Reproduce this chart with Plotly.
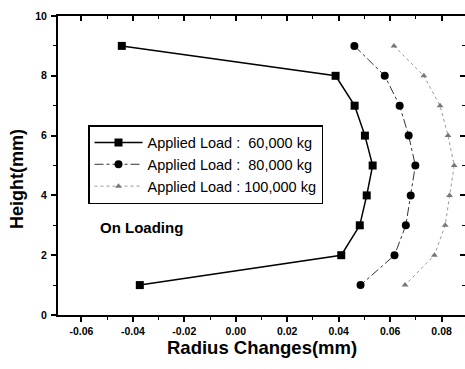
import plotly.graph_objects as go

heights = [9, 8, 7, 6, 5, 4, 3, 2, 1]
r_60000 = [-0.0443, 0.0388, 0.0462, 0.0502, 0.0532, 0.0509, 0.0482, 0.0410, -0.0373]
r_80000 = [0.0461, 0.0579, 0.0637, 0.0672, 0.0698, 0.0680, 0.0661, 0.0617, 0.0485]
r_100000 = [0.0615, 0.0731, 0.0794, 0.0825, 0.0849, 0.0831, 0.0814, 0.0772, 0.0658]
names = ["Applied Load :\u00a0\u00a060,000 kg", "Applied Load :\u00a0\u00a080,000 kg", "Applied Load : 100,000 kg"]
x_tickvals = [-0.06, -0.04, -0.02, 0.00, 0.02, 0.04, 0.06, 0.08]
x_ticktext = ["-0.06", "-0.04", "-0.02", "0.00", "0.02", "0.04", "0.06", "0.08"]
y_tickvals = [0, 2, 4, 6, 8, 10]
y_ticktext = ["0", "2", "4", "6", "8", "10"]

XR = [-0.0691, 0.0891]
YR = [0, 10]
font = "Liberation Sans, Arial, sans-serif"
W, H = 465, 369
L, R, T, B = 58, 0, 16, 54
pw = W - L - R
ph = H - T - B

fig = go.Figure()
fig.add_trace(go.Scatter(x=r_60000, y=heights, name=names[0], mode="lines+markers",
                         line=dict(color="black", width=1.5),
                         marker=dict(symbol="square", size=8, color="black")))
fig.add_trace(go.Scatter(x=r_80000, y=heights, name=names[1], mode="lines+markers",
                         line=dict(color="#333333", width=1, dash="dashdot"),
                         marker=dict(symbol="circle", size=8, color="black")))
fig.add_trace(go.Scatter(x=r_100000, y=heights, name=names[2], mode="lines+markers",
                         line=dict(color="#999999", width=1, dash="dot"),
                         marker=dict(symbol="triangle-up", size=6, color="#777777")))
fig.add_trace(go.Scatter(x=[None], y=[None], xaxis="x2", yaxis="y2", showlegend=False))

bold = lambda s: "<b>" + s + "</b>"

fig.update_layout(
    template="none",
    width=W, height=H,
    margin=dict(l=L, r=R, t=T, b=B, pad=0, autoexpand=False),
    paper_bgcolor="white", plot_bgcolor="white",
    font=dict(family=font, color="black"),
    showlegend=True,
    legend=dict(x=(88 - L) / pw, y=(315 - 125) / ph, xanchor="left", yanchor="top",
                bordercolor="black", borderwidth=1.5, bgcolor="white",
                font=dict(size=14.5, family=font, color="black"),
                tracegroupgap=0, itemwidth=48),
    xaxis=dict(range=XR, showgrid=False, zeroline=False, automargin=False,
               showline=True, linecolor="black", linewidth=2,
               tickmode="array", tickvals=x_tickvals, ticktext=[bold(t) for t in x_ticktext],
               ticks="outside", ticklen=5, tickwidth=1.5, tickcolor="black",
               ticklabelstandoff=0,
               tickfont=dict(size=10.5, family=font, color="black"),
               minor=dict(dtick=0.01, tick0=0, ticks="outside", ticklen=3, tickcolor="black", tickwidth=1),
               fixedrange=True),
    yaxis=dict(range=YR, showgrid=False, zeroline=False, automargin=False,
               showline=True, linecolor="black", linewidth=2,
               tickmode="array", tickvals=y_tickvals, ticktext=[bold(t) for t in y_ticktext],
               ticks="outside", ticklen=5, tickwidth=1.5, tickcolor="black",
               ticklabelstandoff=2,
               tickfont=dict(size=10.5, family=font, color="black"),
               minor=dict(dtick=1, tick0=0, ticks="outside", ticklen=3, tickcolor="black", tickwidth=1),
               fixedrange=True),
    xaxis2=dict(range=XR, overlaying="x", side="top", showgrid=False, zeroline=False, automargin=False,
                showline=True, linecolor="black", linewidth=2,
                tickmode="array", tickvals=x_tickvals, showticklabels=False,
                ticks="inside", ticklen=5, tickwidth=1.5, tickcolor="black",
                minor=dict(dtick=0.01, tick0=0, ticks="inside", ticklen=3, tickcolor="black", tickwidth=1)),
    yaxis2=dict(range=YR, overlaying="y", side="right", showgrid=False, zeroline=False, automargin=False,
                showline=False, tickmode="array", tickvals=y_tickvals, showticklabels=False,
                ticks="inside", ticklen=5, tickwidth=1.5, tickcolor="black",
                minor=dict(dtick=1, tick0=0, ticks="inside", ticklen=3, tickcolor="black", tickwidth=1)),
    annotations=[
        dict(text="<b>On Loading</b>", x=-0.0535, y=2.91, xref="x", yref="y",
             xanchor="left", yanchor="middle", showarrow=False,
             font=dict(size=15, family=font, color="black")),
        dict(text="<b>Radius Changes(mm)</b>", x=(262 - L) / pw, y=(315 - 347) / ph,
             xref="paper", yref="paper", xanchor="center", yanchor="middle", showarrow=False,
             font=dict(size=18.5, family=font, color="black")),
        dict(text="<b>Height(mm)</b>", x=(17 - L) / pw, y=(315 - 179) / ph,
             xref="paper", yref="paper", xanchor="center", yanchor="middle", showarrow=False,
             textangle=-90, font=dict(size=18, family=font, color="black")),
    ],
)

fig.write_html("out.html", config={"displayModeBar": False},
               post_script="document.body.style.margin='0';document.body.style.overflow='hidden';")
